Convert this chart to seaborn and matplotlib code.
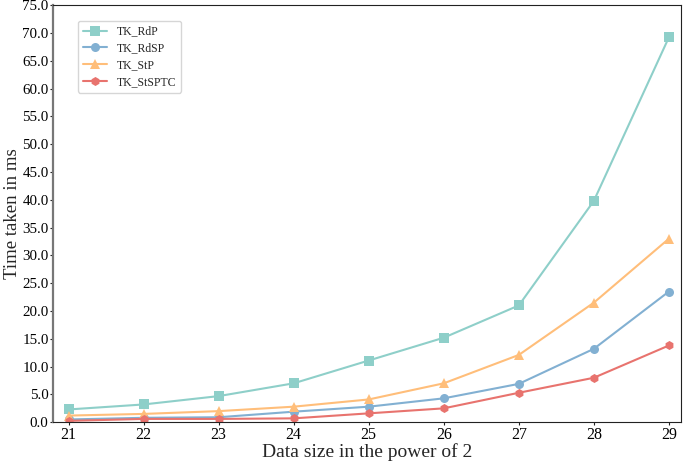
import pandas as pd
import numpy as np
import matplotlib
matplotlib.use("Agg")
import matplotlib.pyplot as plt
import seaborn as sns

# data
data_size = [21, 22, 23, 24, 25, 26, 27, 28, 29]
tk_rdp = [2.3, 3.2, 4.7, 7.0, 11.1, 15.2, 21.0, 39.8, 69.2]
tk_rdsp = [0.5, 0.8, 0.9, 1.9, 2.8, 4.3, 6.9, 13.2, 23.5]
tk_stp = [1.2, 1.5, 2.0, 2.8, 4.1, 7.0, 12.1, 21.5, 33.0]
tk_stsptc = [0.25, 0.6, 0.6, 0.7, 1.6, 2.5, 5.3, 8.0, 13.8]

series_names = ["TK_RdP", "TK_RdSP", "TK_StP", "TK_StSPTC"]
df = pd.DataFrame({
    "size": data_size * 4,
    "time": tk_rdp + tk_rdsp + tk_stp + tk_stsptc,
    "method": np.repeat(series_names, len(data_size)),
})

sns.set_style("ticks")
plt.rcParams["font.family"] = ["Liberation Serif", "DejaVu Serif"]

palette = {"TK_RdP": "#8ECFC9", "TK_RdSP": "#82B0D2",
           "TK_StP": "#FFBE7A", "TK_StSPTC": "#E8736E"}
markers = {"TK_RdP": "s", "TK_RdSP": "o", "TK_StP": "^", "TK_StSPTC": "h"}

fig = plt.figure(figsize=(6.85, 4.63), dpi=100)
ax = fig.add_axes([0.077, 0.088, 0.917, 0.901])
sns.lineplot(data=df, x="size", y="time", hue="method", style="method",
             palette=palette, markers=markers, dashes=False,
             markersize=6.5, markeredgewidth=0, linewidth=1.5, ax=ax)

ax.set_xlim(20.79, 29.16)
ax.set_ylim(0, 75)
ax.set_xticks(data_size)
ax.set_yticks(np.arange(0, 75.1, 5))
ax.yaxis.set_major_formatter(matplotlib.ticker.FormatStrFormatter("%.1f"))
ax.tick_params(labelsize=11.5, length=2.5, width=0.8, pad=1, colors="#222222")
ax.tick_params(axis="y", labelsize=10.8, pad=0.5)
ax.tick_params(axis="both", labelcolor="black")
ax.set_xlabel("Data size in the power of 2", fontsize=14, labelpad=0)
ax.set_ylabel("Time taken in ms", fontsize=13.5, labelpad=0)
ax.yaxis.set_label_coords(-0.05, 0.5)
for side in ["top", "right", "bottom"]:
    ax.spines[side].set_color("#222222")
ax.spines["left"].set_color("#777777")
ax.spines["left"].set_linewidth(1.6)

leg = ax.legend(loc="upper left", bbox_to_anchor=(0.04, 0.962), borderaxespad=0,
                fontsize=8.5, frameon=True, handlelength=2.1, labelspacing=0.4,
                markerscale=1.0)
leg.get_frame().set_edgecolor("#cccccc")

fig.savefig("out.png", dpi=100)
